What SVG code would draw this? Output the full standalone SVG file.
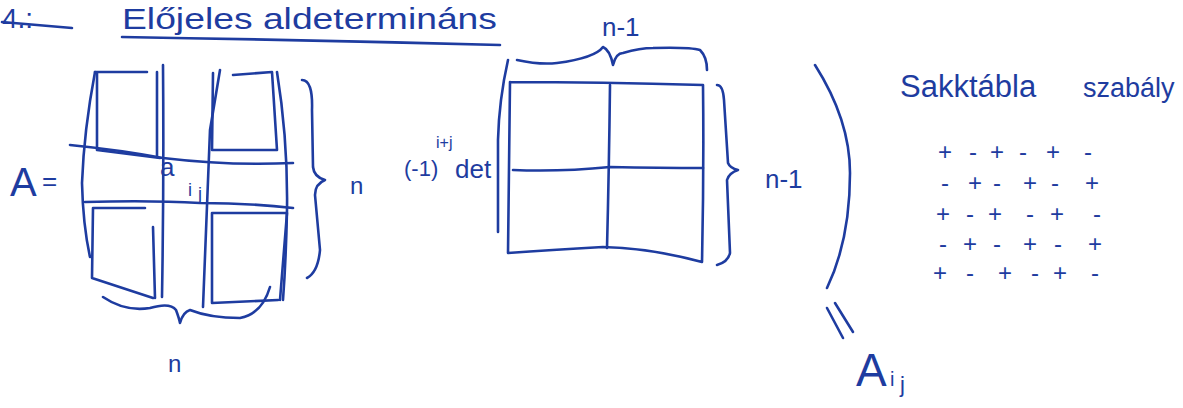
<svg xmlns="http://www.w3.org/2000/svg" width="1183" height="408" viewBox="0 0 1183 408">
<style>
.ink{fill:none;stroke:#1e3ca0;stroke-width:2.6;stroke-linecap:round;stroke-linejoin:round}
.t{fill:#1e3ca0;font-family:"Liberation Sans","DejaVu Sans",sans-serif}
</style>
<rect width="1183" height="408" fill="#ffffff"/>
<g id="title">
<text class="t" x="2" y="28" font-size="28">4.:</text>
<path class="ink" d="M2 22 L72 28"/>
<text class="t" x="122" y="29" font-size="30" textLength="375" lengthAdjust="spacingAndGlyphs">Előjeles aldetermináns</text>
<path class="ink" d="M122 37 Q310 40 500 45"/>
</g>
<g id="matrix-A">
<text class="t" x="10" y="196" font-size="40">A</text>
<text class="t" x="42" y="190" font-size="26">=</text>
<path class="ink" d="M95 72 Q84 130 82 183 Q83 225 90 257"/>
<path class="ink" d="M95 72 L147 72 M97 72 L97 150 L160 158 M157 72 L157 157"/>
<path class="ink" d="M163 65 Q164 180 162 297"/>
<path class="ink" d="M220 70 L210 130 L203 307"/>
<path class="ink" d="M233 75 L272 72 L277 150 L213 150 M213 73 L212 150"/>
<path class="ink" d="M277 72 Q288 140 287 210 Q286 260 283 300"/>
<path class="ink" d="M70 145 Q120 150 163 158 Q230 166 293 163"/>
<path class="ink" d="M85 202 Q150 200 200 203 Q250 203 293 208"/>
<path class="ink" d="M93 208 L145 208 M93 208 L92 278 L153 298 M153 227 L155 298"/>
<path class="ink" d="M213 213 L287 213 M212 213 L212 303 L278 300 M287 213 L280 300"/>
<text class="t" x="160" y="176" font-size="26">a</text>
<text class="t" x="188" y="196" font-size="18">i</text>
<text class="t" x="198" y="200" font-size="18">j</text>
<path class="ink" d="M103 297 Q125 312 150 308 Q170 302 176 310 Q179 318 180 323 Q183 312 190 310 Q210 318 240 318 Q262 314 270 287"/>
<text class="t" x="168" y="372" font-size="24">n</text>
<path class="ink" d="M302 80 Q313 80 312 110 L313 167 Q314 177 325 180 Q315 184 315 195 L320 250 Q318 272 307 278"/>
<text class="t" x="350" y="194" font-size="24">n</text>
</g>
<g id="minor">
<text class="t" x="404" y="176" font-size="22">(-1)</text>
<text class="t" x="436" y="148" font-size="16">i+j</text>
<text class="t" x="455" y="178" font-size="26">det</text>
<path class="ink" d="M508 60 Q499 100 498 140 L498 232"/>
<path class="ink" d="M510 82 Q600 82 703 85 Q704 170 702 262 Q650 248 603 247 Q550 250 508 253 Q509 170 510 82"/>
<path class="ink" d="M610 85 Q609 170 607 248"/>
<path class="ink" d="M513 170 Q560 172 610 167 Q660 168 703 168"/>
<path class="ink" d="M517 60 Q540 65 557 63 Q595 58 603 47 Q610 50 613 65 Q616 53 623 53 Q640 48 653 48 Q690 47 700 50 Q707 57 707 70"/>
<text class="t" x="602" y="36" font-size="26">n-1</text>
<path class="ink" d="M717 85 Q723 85 724 100 L728 163 Q730 168 738 170 Q729 173 727 180 L730 253 Q728 262 717 265"/>
<text class="t" x="765" y="188" font-size="26">n-1</text>
<path class="ink" d="M815 65 Q850 120 850 173 Q850 240 827 288"/>
</g>
<g id="connectors">
<path class="ink" d="M827 308 L843 338 M835 303 L853 332"/>
</g>
<g id="Aij">
<text class="t" x="856" y="386" font-size="46">A</text>
<text class="t" x="890" y="386" font-size="20">i</text>
<text class="t" x="900" y="392" font-size="22">j</text>
</g>
<g id="sign-table">
<text class="t" x="900" y="97" font-size="31">Sakktábla</text>
<text class="t" x="1083" y="97" font-size="27">szabály</text>
<g class="t" font-size="24" text-anchor="middle">
<text y="160"><tspan x="945">+</tspan><tspan x="973">-</tspan><tspan x="997">+</tspan><tspan x="1023">-</tspan><tspan x="1053">+</tspan><tspan x="1088">-</tspan></text>
<text y="191"><tspan x="945">-</tspan><tspan x="975">+</tspan><tspan x="997">-</tspan><tspan x="1030">+</tspan><tspan x="1055">-</tspan><tspan x="1092">+</tspan></text>
<text y="222"><tspan x="943">+</tspan><tspan x="970">-</tspan><tspan x="995">+</tspan><tspan x="1030">-</tspan><tspan x="1057">+</tspan><tspan x="1097">-</tspan></text>
<text y="252"><tspan x="943">-</tspan><tspan x="970">+</tspan><tspan x="997">-</tspan><tspan x="1030">+</tspan><tspan x="1058">-</tspan><tspan x="1095">+</tspan></text>
<text y="281"><tspan x="940">+</tspan><tspan x="970">-</tspan><tspan x="1005">+</tspan><tspan x="1035">-</tspan><tspan x="1060">+</tspan><tspan x="1095">-</tspan></text>
</g>
</g>
</svg>
